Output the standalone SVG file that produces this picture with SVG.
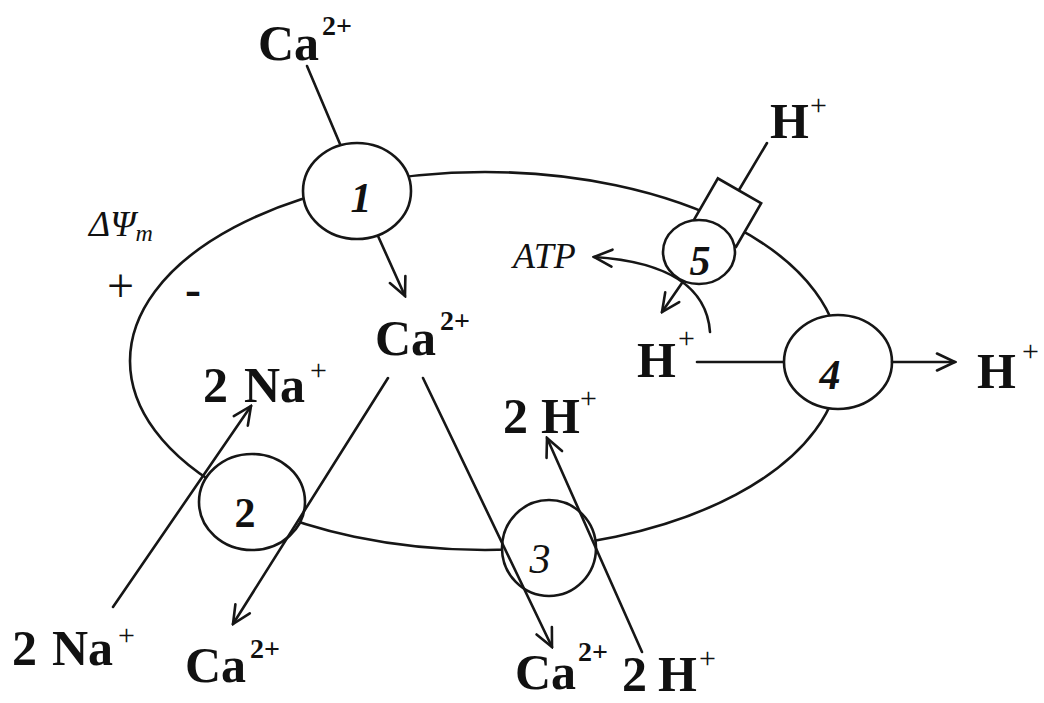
<svg xmlns="http://www.w3.org/2000/svg" width="1044" height="703" viewBox="0 0 1044 703">
<style>
.ln{fill:none;stroke:#161616;stroke-width:2.6;stroke-linecap:round}
.nd{fill:#fff;stroke:#161616;stroke-width:2.6}
.lb{font-family:"Liberation Serif","Times New Roman",serif;font-weight:bold;font-size:50px;fill:#111}
.sp{font-family:"Liberation Serif","Times New Roman",serif;font-weight:bold;font-size:28px;fill:#111}
.pl{font-family:"Liberation Serif","Times New Roman",serif;font-weight:normal;font-size:30px;fill:#111}
.num{font-family:"Liberation Serif","Times New Roman",serif;font-size:42px;fill:#111;text-anchor:middle}
.it{font-family:"Liberation Serif","Times New Roman",serif;font-style:italic;fill:#111}
.atp{font-size:36px}
.psi{font-size:36px}
.sub{font-size:24px}
.sign{font-family:"Liberation Serif","Times New Roman",serif;font-size:48px;fill:#111}
</style>
<defs>
<marker id="ah" viewBox="-22 -11 24 22" refX="0" refY="0" markerWidth="24" markerHeight="22" markerUnits="userSpaceOnUse" orient="auto">
<path d="M-18,-8.5 L0,0 L-18,8.5" fill="none" stroke="#161616" stroke-width="2.6" stroke-linecap="round" stroke-linejoin="miter"/>
</marker>
</defs>
<rect width="1044" height="703" fill="#fff"/>
<g id="membrane">
<ellipse class="ln" cx="485" cy="361" rx="355" ry="189"/>
</g>
<g id="node5">
<rect class="nd" x="-25" y="-25" width="50" height="50" transform="translate(727,212.5) rotate(30)"/>
<ellipse class="nd" cx="699" cy="252" rx="36" ry="32"/>
<text class="num" x="700" y="275" font-weight="bold" font-style="italic">5</text>
</g>
<g id="node1">
<ellipse class="nd" cx="357" cy="191" rx="54" ry="48"/>
<text class="num" x="361" y="212" font-weight="bold" font-style="italic">1</text>
</g>
<g id="node2">
<ellipse class="nd" cx="252" cy="502" rx="53" ry="48"/>
<text class="num" x="245" y="527" font-weight="bold">2</text>
</g>
<g id="node3">
<ellipse class="nd" cx="549" cy="548" rx="47" ry="48"/>
<text class="num" x="540" y="573" font-style="italic">3</text>
</g>
<g id="node4">
<ellipse class="nd" cx="838" cy="362" rx="54" ry="47"/>
<text class="num" x="830" y="389" font-weight="bold" font-style="italic">4</text>
</g>
<g id="connectors">
<line class="ln" x1="307" y1="66" x2="340" y2="144"/>
<line class="ln" x1="378" y1="236" x2="405" y2="296" marker-end="url(#ah)"/>
<line class="ln" x1="388" y1="378" x2="233" y2="624" marker-end="url(#ah)"/>
<line class="ln" x1="423" y1="378" x2="552" y2="647" marker-end="url(#ah)"/>
<line class="ln" x1="113" y1="607" x2="251" y2="406" marker-end="url(#ah)"/>
<line class="ln" x1="642" y1="652" x2="547" y2="438" marker-end="url(#ah)"/>
<line class="ln" x1="697" y1="362" x2="783" y2="362"/>
<line class="ln" x1="892" y1="362" x2="955" y2="362" marker-end="url(#ah)"/>
<line class="ln" x1="767" y1="143" x2="739" y2="190"/>
<line class="ln" x1="682" y1="283" x2="662" y2="312" marker-end="url(#ah)"/>
<path class="ln" d="M710,332 C707,290 672,262 594,257" marker-end="url(#ah)"/>
</g>
<g id="labels">
<text class="lb" x="258" y="60">Ca</text><text class="sp" x="322" y="35">2+</text>
<text class="lb" x="375" y="355">Ca</text><text class="sp" x="440" y="330">2+</text>
<text class="lb" y="402"><tspan x="203">2</tspan><tspan x="244">Na</tspan></text><text class="pl" x="310" y="380">+</text>
<text class="lb" y="665"><tspan x="12">2</tspan><tspan x="52">Na</tspan></text><text class="pl" x="118" y="645">+</text>
<text class="lb" x="185" y="682">Ca</text><text class="sp" x="250" y="658">2+</text>
<text class="lb" x="515" y="689">Ca</text><text class="sp" x="578" y="661">2+</text>
<text class="lb" y="691"><tspan x="622">2</tspan><tspan x="658">H</tspan></text><text class="pl" x="699" y="668">+</text>
<text class="lb" y="433"><tspan x="503">2</tspan><tspan x="541">H</tspan></text><text class="pl" x="580" y="408">+</text>
<text class="lb" x="637" y="377">H</text><text class="pl" x="678" y="348">+</text>
<text class="lb" x="977" y="388">H</text><text class="pl" x="1022" y="361">+</text>
<text class="lb" x="770" y="138">H</text><text class="pl" x="810" y="115">+</text>
<text class="it atp" x="513" y="268">ATP</text>
<text class="it psi" x="89" y="236">ΔΨ<tspan class="sub" dy="5">m</tspan></text>
<text class="sign" x="107" y="302">+</text>
<text class="sign" x="185" y="305" font-weight="bold">-</text>
</g>
</svg>
